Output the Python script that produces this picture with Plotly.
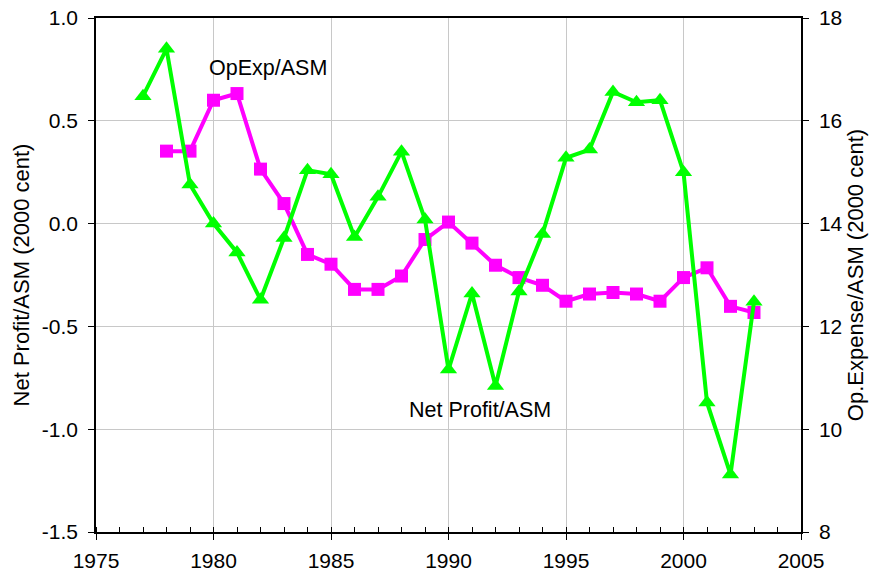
import plotly.graph_objects as go

years = list(range(1977, 2004))
net_profit_years = years
net_profit = [0.62, 0.85, 0.19, 0.00, -0.14, -0.37, -0.07, 0.26, 0.24, -0.065,
              0.13, 0.35, 0.02, -0.71, -0.34, -0.79, -0.33, -0.05, 0.32, 0.36,
              0.64, 0.59, 0.60, 0.25, -0.87, -1.22, -0.38]
opexp_years = list(range(1978, 2004))
opexp = [15.41, 15.41, 16.40, 16.53, 15.06, 14.39, 13.40, 13.21, 12.72, 12.72,
         12.98, 13.69, 14.03, 13.62, 13.19, 12.95, 12.80, 12.49, 12.63, 12.66,
         12.63, 12.49, 12.95, 13.14, 12.39, 12.27]

x_ticks = [1975, 1980, 1985, 1990, 1995, 2000, 2005]
left_ticks = [-1.5, -1.0, -0.5, 0.0, 0.5, 1.0]
right_ticks = [8, 10, 12, 14, 16, 18]

FONT = "Liberation Sans, Arial, sans-serif"
GREEN = "#00FF00"
MAGENTA = "#FF00FF"

fig = go.Figure()
fig.add_trace(go.Scatter(
    x=opexp_years, y=opexp, mode="lines+markers", yaxis="y",
    line=dict(color=MAGENTA, width=4),
    marker=dict(symbol="square", size=13, color=MAGENTA),
    showlegend=False, name="OpExp/ASM"))
fig.add_trace(go.Scatter(
    x=net_profit_years, y=net_profit, mode="lines+markers", yaxis="y2",
    line=dict(color=GREEN, width=4),
    marker=dict(symbol="triangle-up", size=15, color=GREEN),
    showlegend=False, name="Net Profit/ASM"))

fig.update_layout(
    width=874, height=573,
    margin=dict(l=96, r=73, t=18, b=41, autoexpand=False),
    plot_bgcolor="white", paper_bgcolor="white",
    font=dict(family=FONT, size=21, color="black"),
    xaxis=dict(
        range=[1975, 2005], tickvals=x_ticks, ticktext=[str(v) for v in x_ticks],
        showgrid=True, gridcolor="#C8C8C8", gridwidth=1,
        showline=True, linecolor="black", linewidth=1.5, mirror=True,
        ticks="outside", ticklen=6, tickcolor="black", ticklabelstandoff=3,
        ticklabeloverflow="allow",
        minor=dict(dtick=1, tick0=1975, ticks="inside", ticklen=5, tickcolor="black", showgrid=False),
        zeroline=False, tickfont=dict(size=21), automargin=False),
    yaxis=dict(
        side="right", range=[8, 18], tickvals=right_ticks,
        ticktext=[str(v) for v in right_ticks],
        showgrid=True, gridcolor="#C8C8C8", gridwidth=1,
        showline=True, linecolor="black", linewidth=1.5,
        ticks="outside", ticklen=6, tickcolor="black", zeroline=False,
        ticklabelstandoff=6, automargin=False, ticklabeloverflow="allow",
        title=dict(text="Op.Expense/ASM (2000 cent)", font=dict(size=22), standoff=6),
        tickfont=dict(size=21)),
    yaxis2=dict(
        side="left", overlaying="y", range=[-1.5, 1.0], tickvals=left_ticks,
        ticktext=["%.1f" % v for v in left_ticks],
        showgrid=False, showline=True, linecolor="black", linewidth=1.5,
        ticks="outside", ticklen=6, tickcolor="black", zeroline=False,
        ticklabelstandoff=6, automargin=False, ticklabeloverflow="allow",
        title=dict(text="Net Profit/ASM (2000 cent)", font=dict(size=22), standoff=6),
        tickfont=dict(size=21)),
    annotations=[
        dict(x=1982.33, y=0.755, xref="x", yref="y2", text="OpExp/ASM",
             showarrow=False, font=dict(size=21.5)),
        dict(x=1991.35, y=-0.905, xref="x", yref="y2", text="Net Profit/ASM",
             showarrow=False, font=dict(size=21.5)),
    ],
)

fig.write_html("out.html",
               config={"displayModeBar": False},
               post_script="document.body.style.margin='0px';document.body.style.overflow='hidden';")
